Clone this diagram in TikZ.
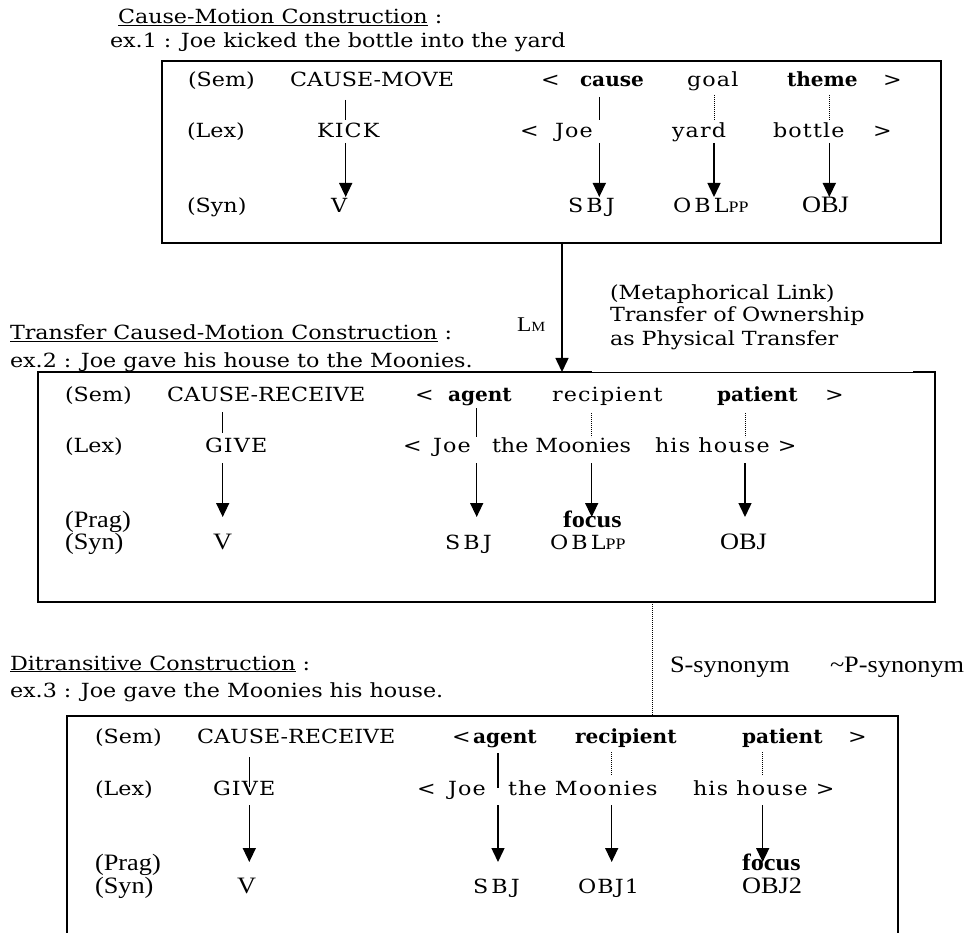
\documentclass[tikz,border=0pt]{standalone}
\usepackage{fontspec}
\setmainfont{DejaVu Serif}[FakeStretch=1.14]
\newfontfamily\tms{Liberation Serif}[FakeStretch=1.12]
\newfontfamily\lsa{DejaVu Serif}[FakeStretch=1.14,LetterSpace=6]
\newfontfamily\lsb{DejaVu Serif}[FakeStretch=1.14,LetterSpace=16]
\newfontfamily\bfam{DejaVu Serif}[FakeStretch=1.03]
\usetikzlibrary{arrows.meta}
\newcommand\smpp{{\tms\fontsize{16}{19}\selectfont PP}}
\tikzset{
  tx/.style={anchor=base west, inner sep=0pt, outer sep=0pt, font=\fontsize{19.5}{23}\selectfont},
  txs/.style={tx, font=\lsa\fontsize{19.5}{23}\selectfont},
  txw/.style={tx, font=\lsb\fontsize{19.5}{23}\selectfont},
  txb/.style={tx, font=\bfam\bfseries\fontsize{19.5}{23}\selectfont},
  tim/.style={tx, font=\tms\fontsize{23.5}{27}\selectfont},
  timb/.style={tx, font=\tms\bfseries\fontsize{23.5}{27}\selectfont},
  boxline/.style={line width=1.6pt},
  thinline/.style={line width=0.6pt},
  arr/.style={line width=1.5pt, -{Triangle[width=13pt,length=14pt]}},
  sline/.style={line width=1.1pt},
  dline/.style={line width=0.9pt, dash pattern=on 0.9pt off 1.1pt},
}
\begin{document}
\begin{tikzpicture}[x=1pt,y=-1pt]
\useasboundingbox (0,0) rectangle (975,933);

% ---------------- Box 1 ----------------
\node[tx] (h1) at (118,24) {\underline{Cause-Motion Construction} :};
\node[tx] (e1) at (110,48) {ex.1 : Joe kicked the bottle into the yard};
\node[boxline, draw, anchor=north west, minimum width=779pt, minimum height=182pt, inner sep=0pt] (box1) at (161,60) {};

\node[tx]  (b1sem)   at (188,87) {(Sem)};
\node[tx]  (b1cm)    at (290,87) {CAUSE-MOVE};
\node[tx]  (b1lt)    at (541,87) {<};
\node[txb] (b1cause) at (580,87) {cause};
\node[txs] (b1goal)  at (687,87) {goal};
\node[txb] (b1theme) at (787,87) {theme};
\node[tx]  (b1gt)    at (883,87) {>};

\node[tx]  (b1lex)   at (187,138) {(Lex)};
\node[txs] (b1kick)  at (317,138) {KICK};
\node[tx]  (b1lt2)   at (520,138) {<};
\node[txs] (b1joe)   at (555,138) {Joe};
\node[txs] (b1yard)  at (672,138) {yard};
\node[txs] (b1bot)   at (773,138) {bottle};
\node[tx]  (b1gt2)   at (873,138) {>};

\node[tx]  (b1syn)   at (187,213) {(Syn)};
\node[tx]  (b1v)     at (331,213) {V};
\node[txw] (b1sbj)   at (568,213) {SBJ};
\node[txw] (b1obl)   at (673,213) {OBL\smpp};
\node[tim] (b1obj)   at (802,213) {OBJ};

\coordinate (l1a) at (345.7,100); \coordinate (l1b) at (345.7,120);
\coordinate (l2a) at (599.3,97);  \coordinate (l2b) at (599.3,120);
\coordinate (l3a) at (714,95);    \coordinate (l3b) at (714,120);
\coordinate (l4a) at (829.3,95);  \coordinate (l4b) at (829.3,120);
\draw[sline] (l1a) -- (l1b);
\draw[sline] (l2a) -- (l2b);
\draw[dline] (l3a) -- (l3b);
\draw[dline] (l4a) -- (l4b);

\foreach \x/\n in {345.7/1,599.3/2,714/3,829.3/4}{
  \coordinate (a1s\n) at (\x,143); \coordinate (a1e\n) at (\x,197);
  \draw[arr] (a1s\n) -- (a1e\n);
}

% ---------------- Link 1 ----------------
\coordinate (lmtop) at (562,242);
\coordinate (lmbot) at (562,372);
\draw[arr] (lmtop) -- (lmbot);
\node[tx, font=\tms] (lm) at (517,332) {\fontsize{21}{24}\selectfont L\fontsize{14}{17}\selectfont M};
\node[tx] (ml1) at (610,300) {(Metaphorical Link)};
\node[tx] (ml2) at (610,322) {Transfer of Ownership};
\node[tx] (ml3) at (610,345) {as Physical Transfer};

% ---------------- Box 2 ----------------
\node[tx] (h2) at (10,340) {\underline{Transfer Caused-Motion Construction} :};
\node[tx] (e2) at (10,367) {ex.2 : Joe gave his house to the Moonies.};
\coordinate (b2tl) at (38,372); \coordinate (b2bl) at (38,602);
\coordinate (b2br) at (935,602); \coordinate (b2tr) at (935,372);
\coordinate (b2g1) at (592,372); \coordinate (b2g2) at (913,372);
\draw[boxline] (b2g1) -- (b2tl) -- (b2bl) -- (b2br) -- (b2tr) -- (b2g2);
\draw[thinline] (b2g1) -- (b2g2);

\node[tx]  (b2sem)   at (65,401) {(Sem)};
\node[tx]  (b2cr)    at (167,401) {CAUSE-RECEIVE};
\node[tx]  (b2lt)    at (415,401) {<};
\node[txb] (b2agent) at (448,401) {agent};
\node[txs] (b2rec)   at (552,401) {recipient};
\node[txb] (b2pat)   at (717,401) {patient};
\node[tx]  (b2gt)    at (825,401) {>};

\node[tx]  (b2lex)   at (65,452) {(Lex)};
\node[txs] (b2give)  at (205,452) {GIVE};
\node[tx]  (b2lt2)   at (403,452) {<};
\node[txs] (b2joe)   at (433,452) {Joe};
\node[tx]  (b2moon)  at (492,452) {the Moonies};
\node[txs] (b2house) at (655,452) {his house >};

\node[tim]  (b2prag)  at (65,527) {(Prag)};
\node[timb] (b2focus) at (563,527) {focus};
\node[tim]  (b2syn)   at (65,549) {(Syn)};
\node[tim]  (b2v)     at (213,549) {V};
\node[txw]  (b2sbj)   at (445,549) {SBJ};
\node[txw]  (b2obl)   at (550,549) {OBL\smpp};
\node[tim]  (b2obj)   at (720,549) {OBJ};

\coordinate (m1a) at (222.7,412); \coordinate (m1b) at (222.7,433);
\coordinate (m2a) at (476.7,408); \coordinate (m2b) at (476.7,437);
\coordinate (m3a) at (591.7,413); \coordinate (m3b) at (591.7,437);
\coordinate (m4a) at (745,413);   \coordinate (m4b) at (745,437);
\draw[sline] (m1a) -- (m1b);
\draw[sline] (m2a) -- (m2b);
\draw[dline] (m3a) -- (m3b);
\draw[dline] (m4a) -- (m4b);

\foreach \x/\n in {222.7/1,476.7/2,591.7/3,745/4}{
  \coordinate (a2s\n) at (\x,463); \coordinate (a2e\n) at (\x,517);
  \draw[arr] (a2s\n) -- (a2e\n);
}

% ---------------- Link 2 ----------------
\coordinate (syntop) at (652.7,602);
\coordinate (synbot) at (652.7,716);
\draw[dline] (syntop) -- (synbot);
\node[tim] (ssyn) at (670,672) {S-synonym};
\node[tim] (psyn) at (830,672) {\textasciitilde P-synonym};

% ---------------- Box 3 ----------------
\node[tx] (h3) at (10,670) {\underline{Ditransitive Construction} :};
\node[tx] (e3) at (10,697) {ex.3 : Joe gave the Moonies his house.};
\coordinate (b3bl) at (67,933); \coordinate (b3tl) at (67,716);
\coordinate (b3tr) at (898,716); \coordinate (b3br) at (898,933);
\draw[boxline] (b3bl) -- (b3tl) -- (b3tr) -- (b3br);

\node[tx]  (b3sem)   at (95,743) {(Sem)};
\node[tx]  (b3cr)    at (197,743) {CAUSE-RECEIVE};
\node[tx]  (b3lt)    at (452,743) {<};
\node[txb] (b3agent) at (473,743) {agent};
\node[txb] (b3rec)   at (575,743) {recipient};
\node[txb] (b3pat)   at (742,743) {patient};
\node[tx]  (b3gt)    at (848,743) {>};

\node[tx]  (b3lex)   at (95,795) {(Lex)};
\node[txs] (b3give)  at (213,795) {GIVE};
\node[tx]  (b3lt2)   at (417,795) {<};
\node[txs] (b3joe)   at (448,795) {Joe};
\node[txs] (b3moon)  at (508,795) {the Moonies};
\node[txs] (b3house) at (693,795) {his house >};

\node[tim]  (b3prag)  at (95,870) {(Prag)};
\node[timb] (b3focus) at (742,870) {focus};
\node[tim]  (b3syn)   at (95,893) {(Syn)};
\node[tim]  (b3v)     at (237,893) {V};
\node[txw]  (b3sbj)   at (473,893) {SBJ};
\node[txs]  (b3obj1)  at (578,893) {OBJ1};
\node[tim]  (b3obj2)  at (742,893) {OBJ2};

\coordinate (n1a) at (249.3,757); \coordinate (n1b) at (249.3,787);
\coordinate (n2a) at (498,753);   \coordinate (n2b) at (498,788);
\coordinate (n3a) at (611.7,752); \coordinate (n3b) at (611.7,775);
\coordinate (n4a) at (762.7,752); \coordinate (n4b) at (762.7,775);
\draw[sline] (n1a) -- (n1b);
\draw[sline] (n2a) -- (n2b);
\draw[dline] (n3a) -- (n3b);
\draw[dline] (n4a) -- (n4b);

\foreach \x/\n in {249.3/1,498/2,611.7/3,762.7/4}{
  \coordinate (a3s\n) at (\x,805); \coordinate (a3e\n) at (\x,862);
  \draw[arr] (a3s\n) -- (a3e\n);
}
\end{tikzpicture}
\end{document}
